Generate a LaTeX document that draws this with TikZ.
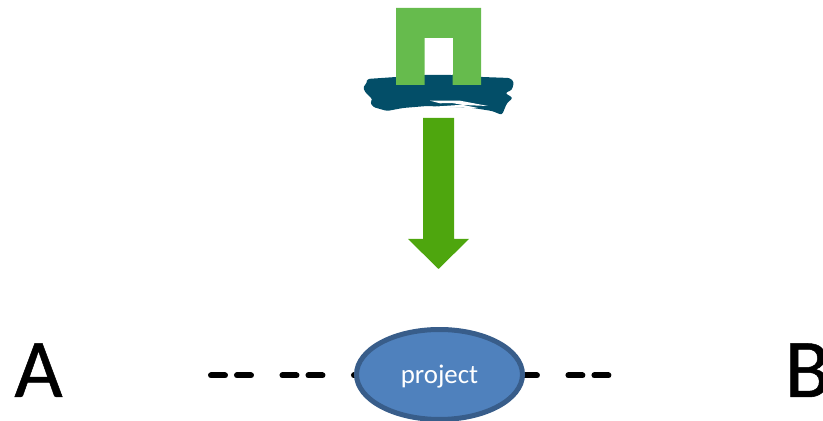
\documentclass[tikz,border=0pt]{standalone}
\usepackage{fontspec}
\setmainfont{Carlito}
\newfontfamily\lblfont[FakeBold=.6]{Carlito}
\usetikzlibrary{shapes.geometric}
\definecolor{logogreen}{HTML}{66BB4D}
\definecolor{logoblue}{HTML}{034E68}
\definecolor{arrowgreen}{HTML}{4EA60E}
\definecolor{prjfill}{HTML}{4F81BD}
\definecolor{prjdraw}{HTML}{385D8A}
\begin{document}
\begin{tikzpicture}[x=.02cm,y=-.02cm,
 lbl/.style={inner sep=0pt, anchor=base, font=\lblfont\fontsize{47.5}{50}\selectfont},
 prj/.style={draw=prjdraw, fill=prjfill, ellipse, line width=.1cm, inner sep=0pt, minimum width=3.32cm, minimum height=1.8cm, text=white, text height=.42cm, text depth=.04cm, font=\fontsize{15.3}{18}\selectfont},
 dsh/.style={line width=.12cm, line cap=round, dash pattern=on .28cm off .24cm on .28cm off .63cm}]
\useasboundingbox (0,0) rectangle (823,421);
% logo
\fill[logoblue, rounded corners=.05cm] (367,79) -- (396,77) -- (423,75) -- (453,75) -- (482,77) -- (510,78) -- (514,82) -- (512,90) -- (505,93) -- (513,98) -- (507,103) -- (502,115) -- (492,111) -- (473,108) -- (450,107) -- (427,106) -- (403,108) -- (387,111) -- (373,107) -- (370,102) -- (373,100) -- (365,92) -- (363,87) -- (367,83) -- cycle;
\fill[white] (430,100.7) -- (460,100.7) -- (488,106) -- (463,105) -- (452,103) -- (440,103.3) -- cycle;
\fill[white] (436,106.5) -- (462,104.8) -- (478,108) -- (450,107.5) -- cycle;
\fill[logogreen] (396,85) -- (396,8) -- (481,8) -- (481,85) -- (452.5,85) -- (452.5,38) -- (424.5,38) -- (424.5,85) -- cycle;
\fill[white] (424.5,38) rectangle (452.5,74.5);
% arrow
\fill[arrowgreen] (423,118) -- (454,118) -- (454,239) -- (469,239) -- (438.5,269) -- (408,239) -- (423,239) -- cycle;
% bottom row
\coordinate (lineL) at (211,375.5);
\coordinate (lineR) at (608.5,375.5);
\draw[dsh] (lineL) -- (lineR);
\node[prj] (project) at (439.5,374.5) {project};
\node[lbl] (a) at (38.5,397) {A};
\node[lbl, anchor=base west] (b) at (784.5,397) {B};
\end{tikzpicture}
\end{document}
